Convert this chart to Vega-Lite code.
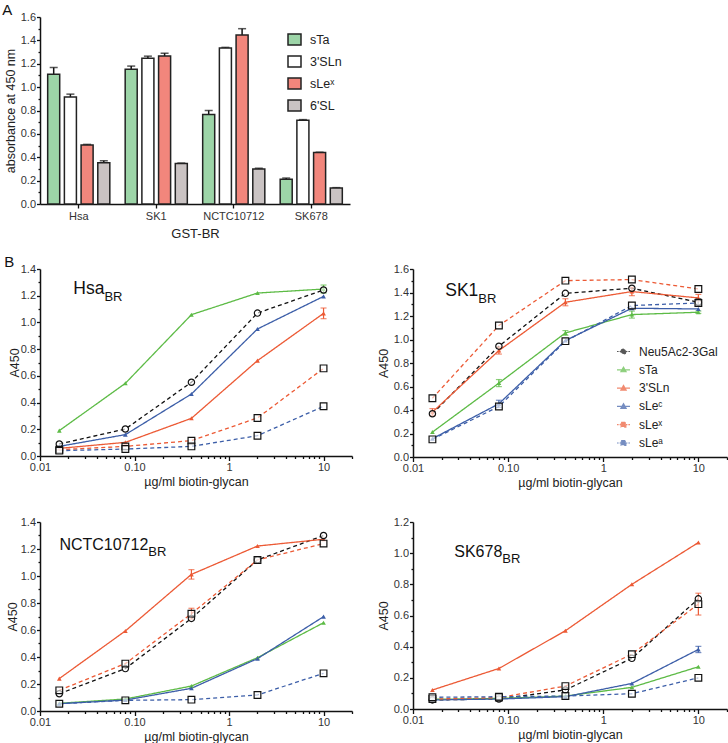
{
"$schema": "https://vega.github.io/schema/vega-lite/v6.json",
"padding": {"left": 2, "top": 3, "right": 0, "bottom": 0},
"config": {
  "font": "Liberation Sans",
  "view": {"stroke": null},
  "axis": {"domainColor": "#111", "domainWidth": 1.5, "tickColor": "#111", "tickWidth": 1.3, "labelColor": "#333", "labelFontSize": 11, "labelFont": "Liberation Sans", "titleColor": "#222", "titleFontSize": 12.5, "titleFontWeight": "normal", "titleFont": "Liberation Sans", "grid": false, "labelPadding": 1, "labelOverlap": false},
  "title": {"font": "Liberation Sans", "fontWeight": "normal", "fontSize": 16, "color": "#111"}
},
"datasets": {
  "bars": [
    {"strain": "Hsa", "glycan": "sTa", "v": 1.11, "hi": 1.168},
    {"strain": "Hsa", "glycan": "3'SLn", "v": 0.915, "hi": 0.94},
    {"strain": "Hsa", "glycan": "sLex", "v": 0.505, "hi": 0.51},
    {"strain": "Hsa", "glycan": "6'SL", "v": 0.353, "hi": 0.37},
    {"strain": "SK1", "glycan": "sTa", "v": 1.154, "hi": 1.18},
    {"strain": "SK1", "glycan": "3'SLn", "v": 1.246, "hi": 1.265},
    {"strain": "SK1", "glycan": "sLex", "v": 1.266, "hi": 1.29},
    {"strain": "SK1", "glycan": "6'SL", "v": 0.346, "hi": 0.35},
    {"strain": "NCTC10712", "glycan": "sTa", "v": 0.766, "hi": 0.8},
    {"strain": "NCTC10712", "glycan": "3'SLn", "v": 1.334, "hi": 1.34},
    {"strain": "NCTC10712", "glycan": "sLex", "v": 1.446, "hi": 1.5},
    {"strain": "NCTC10712", "glycan": "6'SL", "v": 0.3, "hi": 0.306},
    {"strain": "SK678", "glycan": "sTa", "v": 0.212, "hi": 0.222},
    {"strain": "SK678", "glycan": "3'SLn", "v": 0.717, "hi": 0.722},
    {"strain": "SK678", "glycan": "sLex", "v": 0.44, "hi": 0.443},
    {"strain": "SK678", "glycan": "6'SL", "v": 0.137, "hi": 0.14}
  ],
  "curves": [
    {"p": "Hsa", "g": "Neu5Ac2-3Gal", "c": 0.016, "v": 0.09, "sd": 0},
    {"p": "Hsa", "g": "Neu5Ac2-3Gal", "c": 0.08, "v": 0.202, "sd": 0},
    {"p": "Hsa", "g": "Neu5Ac2-3Gal", "c": 0.4, "v": 0.552, "sd": 0},
    {"p": "Hsa", "g": "Neu5Ac2-3Gal", "c": 2, "v": 1.07, "sd": 0},
    {"p": "Hsa", "g": "Neu5Ac2-3Gal", "c": 10, "v": 1.243, "sd": 0},
    {"p": "Hsa", "g": "sTa", "c": 0.016, "v": 0.19, "sd": 0},
    {"p": "Hsa", "g": "sTa", "c": 0.08, "v": 0.544, "sd": 0},
    {"p": "Hsa", "g": "sTa", "c": 0.4, "v": 1.058, "sd": 0},
    {"p": "Hsa", "g": "sTa", "c": 2, "v": 1.22, "sd": 0},
    {"p": "Hsa", "g": "sTa", "c": 10, "v": 1.25, "sd": 0.03},
    {"p": "Hsa", "g": "3'SLn", "c": 0.016, "v": 0.057, "sd": 0},
    {"p": "Hsa", "g": "3'SLn", "c": 0.08, "v": 0.102, "sd": 0},
    {"p": "Hsa", "g": "3'SLn", "c": 0.4, "v": 0.282, "sd": 0},
    {"p": "Hsa", "g": "3'SLn", "c": 2, "v": 0.714, "sd": 0},
    {"p": "Hsa", "g": "3'SLn", "c": 10, "v": 1.068, "sd": 0.04},
    {"p": "Hsa", "g": "sLec", "c": 0.016, "v": 0.072, "sd": 0},
    {"p": "Hsa", "g": "sLec", "c": 0.08, "v": 0.16, "sd": 0},
    {"p": "Hsa", "g": "sLec", "c": 0.4, "v": 0.464, "sd": 0},
    {"p": "Hsa", "g": "sLec", "c": 2, "v": 0.951, "sd": 0},
    {"p": "Hsa", "g": "sLec", "c": 10, "v": 1.195, "sd": 0},
    {"p": "Hsa", "g": "sLex", "c": 0.016, "v": 0.047, "sd": 0},
    {"p": "Hsa", "g": "sLex", "c": 0.08, "v": 0.072, "sd": 0},
    {"p": "Hsa", "g": "sLex", "c": 0.4, "v": 0.115, "sd": 0},
    {"p": "Hsa", "g": "sLex", "c": 2, "v": 0.285, "sd": 0},
    {"p": "Hsa", "g": "sLex", "c": 10, "v": 0.656, "sd": 0},
    {"p": "Hsa", "g": "sLea", "c": 0.016, "v": 0.04, "sd": 0},
    {"p": "Hsa", "g": "sLea", "c": 0.08, "v": 0.052, "sd": 0},
    {"p": "Hsa", "g": "sLea", "c": 0.4, "v": 0.072, "sd": 0},
    {"p": "Hsa", "g": "sLea", "c": 2, "v": 0.152, "sd": 0},
    {"p": "Hsa", "g": "sLea", "c": 10, "v": 0.372, "sd": 0},
    {"p": "SK1", "g": "Neu5Ac2-3Gal", "c": 0.016, "v": 0.368, "sd": 0},
    {"p": "SK1", "g": "Neu5Ac2-3Gal", "c": 0.08, "v": 0.943, "sd": 0},
    {"p": "SK1", "g": "Neu5Ac2-3Gal", "c": 0.4, "v": 1.393, "sd": 0},
    {"p": "SK1", "g": "Neu5Ac2-3Gal", "c": 2, "v": 1.436, "sd": 0},
    {"p": "SK1", "g": "Neu5Ac2-3Gal", "c": 10, "v": 1.317, "sd": 0.03},
    {"p": "SK1", "g": "sTa", "c": 0.016, "v": 0.212, "sd": 0},
    {"p": "SK1", "g": "sTa", "c": 0.08, "v": 0.629, "sd": 0.03},
    {"p": "SK1", "g": "sTa", "c": 0.4, "v": 1.056, "sd": 0.02},
    {"p": "SK1", "g": "sTa", "c": 2, "v": 1.212, "sd": 0.03},
    {"p": "SK1", "g": "sTa", "c": 10, "v": 1.232, "sd": 0.01},
    {"p": "SK1", "g": "3'SLn", "c": 0.016, "v": 0.382, "sd": 0.03},
    {"p": "SK1", "g": "3'SLn", "c": 0.08, "v": 0.906, "sd": 0.03},
    {"p": "SK1", "g": "3'SLn", "c": 0.4, "v": 1.317, "sd": 0.03},
    {"p": "SK1", "g": "3'SLn", "c": 2, "v": 1.408, "sd": 0.035},
    {"p": "SK1", "g": "3'SLn", "c": 10, "v": 1.354, "sd": 0.03},
    {"p": "SK1", "g": "sLec", "c": 0.016, "v": 0.156, "sd": 0},
    {"p": "SK1", "g": "sLec", "c": 0.08, "v": 0.453, "sd": 0.03},
    {"p": "SK1", "g": "sLec", "c": 0.4, "v": 0.991, "sd": 0},
    {"p": "SK1", "g": "sLec", "c": 2, "v": 1.266, "sd": 0},
    {"p": "SK1", "g": "sLec", "c": 10, "v": 1.26, "sd": 0},
    {"p": "SK1", "g": "sLex", "c": 0.016, "v": 0.5, "sd": 0},
    {"p": "SK1", "g": "sLex", "c": 0.08, "v": 1.119, "sd": 0},
    {"p": "SK1", "g": "sLex", "c": 0.4, "v": 1.501, "sd": 0},
    {"p": "SK1", "g": "sLex", "c": 2, "v": 1.51, "sd": 0},
    {"p": "SK1", "g": "sLex", "c": 10, "v": 1.43, "sd": 0},
    {"p": "SK1", "g": "sLea", "c": 0.016, "v": 0.15, "sd": 0},
    {"p": "SK1", "g": "sLea", "c": 0.08, "v": 0.43, "sd": 0},
    {"p": "SK1", "g": "sLea", "c": 0.4, "v": 0.986, "sd": 0},
    {"p": "SK1", "g": "sLea", "c": 2, "v": 1.289, "sd": 0},
    {"p": "SK1", "g": "sLea", "c": 10, "v": 1.311, "sd": 0},
    {"p": "NCTC10712", "g": "Neu5Ac2-3Gal", "c": 0.016, "v": 0.128, "sd": 0},
    {"p": "NCTC10712", "g": "Neu5Ac2-3Gal", "c": 0.08, "v": 0.314, "sd": 0},
    {"p": "NCTC10712", "g": "Neu5Ac2-3Gal", "c": 0.4, "v": 0.686, "sd": 0},
    {"p": "NCTC10712", "g": "Neu5Ac2-3Gal", "c": 2, "v": 1.119, "sd": 0},
    {"p": "NCTC10712", "g": "Neu5Ac2-3Gal", "c": 10, "v": 1.3, "sd": 0},
    {"p": "NCTC10712", "g": "sTa", "c": 0.016, "v": 0.057, "sd": 0},
    {"p": "NCTC10712", "g": "sTa", "c": 0.08, "v": 0.089, "sd": 0},
    {"p": "NCTC10712", "g": "sTa", "c": 0.4, "v": 0.185, "sd": 0},
    {"p": "NCTC10712", "g": "sTa", "c": 2, "v": 0.395, "sd": 0},
    {"p": "NCTC10712", "g": "sTa", "c": 10, "v": 0.654, "sd": 0},
    {"p": "NCTC10712", "g": "3'SLn", "c": 0.016, "v": 0.24, "sd": 0},
    {"p": "NCTC10712", "g": "3'SLn", "c": 0.08, "v": 0.593, "sd": 0},
    {"p": "NCTC10712", "g": "3'SLn", "c": 0.4, "v": 1.012, "sd": 0.035},
    {"p": "NCTC10712", "g": "3'SLn", "c": 2, "v": 1.222, "sd": 0},
    {"p": "NCTC10712", "g": "3'SLn", "c": 10, "v": 1.272, "sd": 0},
    {"p": "NCTC10712", "g": "sLec", "c": 0.016, "v": 0.054, "sd": 0},
    {"p": "NCTC10712", "g": "sLec", "c": 0.08, "v": 0.081, "sd": 0},
    {"p": "NCTC10712", "g": "sLec", "c": 0.4, "v": 0.168, "sd": 0},
    {"p": "NCTC10712", "g": "sLec", "c": 2, "v": 0.388, "sd": 0},
    {"p": "NCTC10712", "g": "sLec", "c": 10, "v": 0.699, "sd": 0},
    {"p": "NCTC10712", "g": "sLex", "c": 0.016, "v": 0.153, "sd": 0},
    {"p": "NCTC10712", "g": "sLex", "c": 0.08, "v": 0.351, "sd": 0},
    {"p": "NCTC10712", "g": "sLex", "c": 0.4, "v": 0.721, "sd": 0.04},
    {"p": "NCTC10712", "g": "sLex", "c": 2, "v": 1.119, "sd": 0},
    {"p": "NCTC10712", "g": "sLex", "c": 10, "v": 1.24, "sd": 0},
    {"p": "NCTC10712", "g": "sLea", "c": 0.016, "v": 0.054, "sd": 0},
    {"p": "NCTC10712", "g": "sLea", "c": 0.08, "v": 0.079, "sd": 0},
    {"p": "NCTC10712", "g": "sLea", "c": 0.4, "v": 0.084, "sd": 0},
    {"p": "NCTC10712", "g": "sLea", "c": 2, "v": 0.119, "sd": 0},
    {"p": "NCTC10712", "g": "sLea", "c": 10, "v": 0.279, "sd": 0},
    {"p": "SK678", "g": "Neu5Ac2-3Gal", "c": 0.016, "v": 0.058, "sd": 0},
    {"p": "SK678", "g": "Neu5Ac2-3Gal", "c": 0.08, "v": 0.064, "sd": 0},
    {"p": "SK678", "g": "Neu5Ac2-3Gal", "c": 0.4, "v": 0.122, "sd": 0},
    {"p": "SK678", "g": "Neu5Ac2-3Gal", "c": 2, "v": 0.325, "sd": 0},
    {"p": "SK678", "g": "Neu5Ac2-3Gal", "c": 10, "v": 0.707, "sd": 0},
    {"p": "SK678", "g": "sTa", "c": 0.016, "v": 0.062, "sd": 0},
    {"p": "SK678", "g": "sTa", "c": 0.08, "v": 0.068, "sd": 0},
    {"p": "SK678", "g": "sTa", "c": 0.4, "v": 0.083, "sd": 0},
    {"p": "SK678", "g": "sTa", "c": 2, "v": 0.139, "sd": 0},
    {"p": "SK678", "g": "sTa", "c": 10, "v": 0.271, "sd": 0},
    {"p": "SK678", "g": "3'SLn", "c": 0.016, "v": 0.122, "sd": 0},
    {"p": "SK678", "g": "3'SLn", "c": 0.08, "v": 0.26, "sd": 0},
    {"p": "SK678", "g": "3'SLn", "c": 0.4, "v": 0.502, "sd": 0},
    {"p": "SK678", "g": "3'SLn", "c": 2, "v": 0.8, "sd": 0},
    {"p": "SK678", "g": "3'SLn", "c": 10, "v": 1.068, "sd": 0},
    {"p": "SK678", "g": "sLec", "c": 0.016, "v": 0.058, "sd": 0},
    {"p": "SK678", "g": "sLec", "c": 0.08, "v": 0.064, "sd": 0},
    {"p": "SK678", "g": "sLec", "c": 0.4, "v": 0.079, "sd": 0},
    {"p": "SK678", "g": "sLec", "c": 2, "v": 0.164, "sd": 0},
    {"p": "SK678", "g": "sLec", "c": 10, "v": 0.382, "sd": 0.02},
    {"p": "SK678", "g": "sLex", "c": 0.016, "v": 0.064, "sd": 0},
    {"p": "SK678", "g": "sLex", "c": 0.08, "v": 0.073, "sd": 0},
    {"p": "SK678", "g": "sLex", "c": 0.4, "v": 0.147, "sd": 0},
    {"p": "SK678", "g": "sLex", "c": 2, "v": 0.352, "sd": 0},
    {"p": "SK678", "g": "sLex", "c": 10, "v": 0.673, "sd": 0.07},
    {"p": "SK678", "g": "sLea", "c": 0.016, "v": 0.075, "sd": 0},
    {"p": "SK678", "g": "sLea", "c": 0.08, "v": 0.079, "sd": 0},
    {"p": "SK678", "g": "sLea", "c": 0.4, "v": 0.083, "sd": 0},
    {"p": "SK678", "g": "sLea", "c": 2, "v": 0.098, "sd": 0},
    {"p": "SK678", "g": "sLea", "c": 10, "v": 0.2, "sd": 0}
  ]
},
"bounds": "flush",
"columns": 2,
"spacing": {"row": 65, "column": 61},
"resolve": {"scale": {"color": "independent", "strokeDash": "independent", "shape": "independent"}, "legend": {"color": "independent", "strokeDash": "independent", "shape": "independent"}},
"concat": [
  {
    "width": 310, "height": 187,
    "title": {"text": "A", "anchor": "start", "frame": "bounds", "fontSize": 15, "offset": 0, "dy": 7, "dx": -2},
    "data": {"name": "bars"},
    "encoding": {
      "x": {"field": "strain", "type": "nominal", "sort": ["Hsa", "SK1", "NCTC10712", "SK678"], "scale": {"paddingInner": 0, "paddingOuter": 0}, "axis": {"title": "GST-BR", "labelAngle": 0, "tickSize": 4, "labelPadding": 2, "titlePadding": 6, "titleFontSize": 13}},
      "xOffset": {"field": "glycan", "sort": ["sTa", "3'SLn", "sLex", "6'SL"], "scale": {"paddingInner": 0.28, "paddingOuter": 0.46}},
      "y": {"field": "v", "type": "quantitative", "scale": {"domain": [0, 1.6]}, "axis": {"title": "absorbance at 450 nm", "values": [0, 0.1, 0.2, 0.3, 0.4, 0.5, 0.6, 0.7, 0.8, 0.9, 1, 1.1, 1.2, 1.3, 1.4, 1.5, 1.6], "labelExpr": "round(datum.value*10)%2==0 ? format(datum.value, '.1f') : ''", "labelOverlap": false, "tickSize": {"condition": {"test": "round(datum.value*10)%2==0", "value": 3.5}, "value": 2}, "titlePadding": 3}}
    },
    "layer": [
      {"mark": {"type": "rule", "color": "#111", "strokeWidth": 1.5}, "encoding": {"y2": {"field": "hi"}}},
      {"mark": {"type": "tick", "color": "#111", "thickness": 1.5, "size": 8}, "encoding": {"y": {"field": "hi", "type": "quantitative"}}},
      {"mark": {"type": "bar", "stroke": "#222", "strokeWidth": 1.5},
       "encoding": {"color": {"field": "glycan", "type": "nominal", "scale": {"domain": ["sTa", "3'SLn", "sLex", "6'SL"], "range": ["#9dd5a8", "#ffffff", "#f2867c", "#cac3c3"]},
         "legend": {"title": null, "orient": "none", "legendX": 247, "legendY": 15, "padding": 0, "symbolType": "M-1,-0.85H1V0.85H-1Z", "symbolSize": 169, "symbolStrokeColor": "#222", "symbolStrokeWidth": 1.5, "labelFontSize": 12.5, "labelColor": "#222", "labelOffset": 8, "rowPadding": 3, "labelExpr": "datum.label == 'sLex' ? 'sLeˣ' : datum.label"}}}}
    ]
  },
  {
    "width": 314, "height": 187,
    "data": {"values": [{}]},
    "mark": {"type": "text", "text": ""}
  },
  {
    "width": 312, "height": 187,
    "title": {"text": "B", "anchor": "start", "frame": "bounds", "fontSize": 15, "offset": 0, "dy": 7, "dx": -4},
    "data": {"name": "curves"},
    "transform": [{"filter": "datum.p == 'Hsa'"}],
    "encoding": {
      "x": {"field": "c", "type": "quantitative", "scale": {"type": "log", "domain": [0.01, 20]}, "axis": {"title": "µg/ml biotin-glycan", "values": [0.01, 0.02, 0.03, 0.04, 0.05, 0.06, 0.07, 0.08, 0.09, 0.1, 0.2, 0.3, 0.4, 0.5, 0.6, 0.7, 0.8, 0.9, 1, 2, 3, 4, 5, 6, 7, 8, 9, 10, 20], "labelExpr": "datum.value == 0.01 ? '0.01' : datum.value == 0.1 ? '0.10' : datum.value == 1 ? '1' : datum.value == 10 ? '10' : ''", "labelOverlap": false, "tickSize": {"condition": {"test": "datum.value == 0.01 || datum.value == 0.1 || datum.value == 1 || datum.value == 10", "value": 4.5}, "value": 2.5}, "labelFlush": false, "titlePadding": 3}},
      "y": {"field": "v", "type": "quantitative", "scale": {"domain": [0, 1.4]}, "axis": {"title": "A450", "values": [0, 0.1, 0.2, 0.3, 0.4, 0.5, 0.6, 0.7, 0.8, 0.9, 1, 1.1, 1.2, 1.3, 1.4], "labelExpr": "round(datum.value*10)%2==0 ? format(datum.value, '.1f') : ''", "labelOverlap": false, "tickSize": {"condition": {"test": "round(datum.value*10)%2==0", "value": 3.5}, "value": 2}, "titlePadding": -1}},
      "color": {"field": "g", "type": "nominal", "scale": {"domain": ["Neu5Ac2-3Gal", "sTa", "3'SLn", "sLec", "sLex", "sLea"], "range": ["#111111", "#5dbb46", "#ec5a35", "#3c5ea8", "#ec5a35", "#3c5ea8"]}, "legend": null}
    },
    "layer": [
      {"mark": {"type": "line", "strokeWidth": 1.3}, "encoding": {"strokeDash": {"field": "g", "type": "nominal", "scale": {"domain": ["Neu5Ac2-3Gal", "sTa", "3'SLn", "sLec", "sLex", "sLea"], "range": [[4, 3], [1, 0], [1, 0], [1, 0], [4, 3], [4, 3]]}, "legend": null}}},
      {"transform": [{"filter": "datum.sd > 0"}], "mark": {"type": "errorbar", "ticks": {"size": 6}, "thickness": 1.2}, "encoding": {"yError": {"field": "sd"}}},
      {"transform": [{"filter": {"field": "g", "oneOf": ["sTa", "3'SLn", "sLec"]}}], "mark": {"type": "point", "shape": "triangle-up", "filled": true, "size": 22, "opacity": 1}},
      {"transform": [{"filter": {"field": "g", "oneOf": ["Neu5Ac2-3Gal"]}}], "mark": {"type": "point", "shape": "circle", "size": 40, "stroke": "#111", "fill": "#ffffff", "fillOpacity": 0.6, "strokeWidth": 1.2, "opacity": 1}, "encoding": {"color": {"value": "#111"}}},
      {"transform": [{"filter": {"field": "g", "oneOf": ["sLex", "sLea"]}}], "mark": {"type": "square", "size": 45, "stroke": "#111", "fill": "#ffffff", "fillOpacity": 0.6, "strokeWidth": 1.2, "opacity": 1}, "encoding": {"color": {"value": "#111"}}},
      {"transform": [{"filter": "datum.c == 10 && datum.g == 'sTa'"}], "mark": {"type": "text", "text": "Hsa", "fontSize": 17.5, "align": "right", "baseline": "alphabetic", "color": "#111"}, "encoding": {"x": {"datum": 0.048}, "y": {"datum": 1.213}, "color": {"value": "#111"}}},
      {"transform": [{"filter": "datum.c == 10 && datum.g == 'sTa'"}], "mark": {"type": "text", "text": "BR", "fontSize": 13, "align": "left", "baseline": "alphabetic", "dy": 7, "color": "#111"}, "encoding": {"x": {"datum": 0.048}, "y": {"datum": 1.213}, "color": {"value": "#111"}}}
    ]
  },
  {
    "width": 314, "height": 188,
    "data": {"name": "curves"},
    "transform": [{"filter": "datum.p == 'SK1'"}],
    "encoding": {
      "x": {"field": "c", "type": "quantitative", "scale": {"type": "log", "domain": [0.01, 20]}, "axis": {"title": "µg/ml biotin-glycan", "values": [0.01, 0.02, 0.03, 0.04, 0.05, 0.06, 0.07, 0.08, 0.09, 0.1, 0.2, 0.3, 0.4, 0.5, 0.6, 0.7, 0.8, 0.9, 1, 2, 3, 4, 5, 6, 7, 8, 9, 10, 20], "labelExpr": "datum.value == 0.01 ? '0.01' : datum.value == 0.1 ? '0.10' : datum.value == 1 ? '1' : datum.value == 10 ? '10' : ''", "labelOverlap": false, "tickSize": {"condition": {"test": "datum.value == 0.01 || datum.value == 0.1 || datum.value == 1 || datum.value == 10", "value": 4.5}, "value": 2.5}, "labelFlush": false, "titlePadding": 3}},
      "y": {"field": "v", "type": "quantitative", "scale": {"domain": [0, 1.6]}, "axis": {"title": "A450", "values": [0, 0.1, 0.2, 0.3, 0.4, 0.5, 0.6, 0.7, 0.8, 0.9, 1, 1.1, 1.2, 1.3, 1.4, 1.5, 1.6], "labelExpr": "round(datum.value*10)%2==0 ? format(datum.value, '.1f') : ''", "labelOverlap": false, "tickSize": {"condition": {"test": "round(datum.value*10)%2==0", "value": 3.5}, "value": 2}, "titlePadding": 3}},
      "color": {"field": "g", "type": "nominal", "scale": {"domain": ["Neu5Ac2-3Gal", "sTa", "3'SLn", "sLec", "sLex", "sLea"], "range": ["#111111", "#5dbb46", "#ec5a35", "#3c5ea8", "#ec5a35", "#3c5ea8"]},
        "legend": {"title": null, "orient": "none", "legendX": 203, "legendY": 75, "padding": 0, "symbolSize": 169, "symbolStrokeWidth": 1.2, "labelFontSize": 12, "labelColor": "#222", "labelOffset": 8, "rowPadding": 4.3, "labelExpr": "datum.label == 'sLec' ? 'sLeᶜ' : datum.label == 'sLex' ? 'sLeˣ' : datum.label == 'sLea' ? 'sLeᵃ' : datum.label"}}
    },
    "layer": [
      {"mark": {"type": "line", "strokeWidth": 1.3}, "encoding": {"strokeDash": {"field": "g", "type": "nominal", "scale": {"domain": ["Neu5Ac2-3Gal", "sTa", "3'SLn", "sLec", "sLex", "sLea"], "range": [[4, 3], [1, 0], [1, 0], [1, 0], [4, 3], [4, 3]]}, "legend": null}}},
      {"transform": [{"filter": "datum.sd > 0"}], "mark": {"type": "errorbar", "ticks": {"size": 6}, "thickness": 1.2}, "encoding": {"yError": {"field": "sd"}}},
      {"transform": [{"filter": {"field": "g", "oneOf": ["sTa", "3'SLn", "sLec"]}}], "mark": {"type": "point", "shape": "triangle-up", "filled": true, "size": 22, "opacity": 1}},
      {"transform": [{"filter": {"field": "g", "oneOf": ["Neu5Ac2-3Gal"]}}], "mark": {"type": "point", "shape": "circle", "size": 40, "stroke": "#111", "fill": "#ffffff", "fillOpacity": 0.6, "strokeWidth": 1.2, "opacity": 1}, "encoding": {"color": {"value": "#111"}}},
      {"transform": [{"filter": {"field": "g", "oneOf": ["sLex", "sLea"]}}], "mark": {"type": "square", "size": 45, "stroke": "#111", "fill": "#ffffff", "fillOpacity": 0.6, "strokeWidth": 1.2, "opacity": 1}, "encoding": {"color": {"value": "#111"}}},
      {"transform": [{"filter": "datum.v < 0"}], "mark": {"type": "point", "filled": false, "strokeWidth": 1.2, "opacity": 1},
       "encoding": {
         "shape": {"field": "g", "type": "nominal", "scale": {"domain": ["Neu5Ac2-3Gal", "sTa", "3'SLn", "sLec", "sLex", "sLea"], "range": ["M-1,0H-0.75M-0.6,0H-0.42M0.42,0H0.6M0.75,0H1M-0.38,0A0.38,0.38,0,1,1,0.38,0A0.38,0.38,0,1,1,-0.38,0Z", "M-1,0H1M0,-0.4L0.4,0.3H-0.4Z", "M-1,0H1M0,-0.4L0.4,0.3H-0.4Z", "M-1,0H1M0,-0.4L0.4,0.3H-0.4Z", "M-1,0H-0.75M-0.6,0H-0.38M0.38,0H0.6M0.75,0H1M-0.36,-0.36H0.36V0.36H-0.36Z", "M-1,0H-0.75M-0.6,0H-0.38M0.38,0H0.6M0.75,0H1M-0.36,-0.36H0.36V0.36H-0.36Z"]},
           "legend": {"title": null, "orient": "none", "legendX": 203, "legendY": 75, "padding": 0, "symbolSize": 169, "symbolStrokeWidth": 1.2, "labelFontSize": 12, "labelColor": "#222", "labelOffset": 8, "rowPadding": 4.3, "labelExpr": "datum.label == 'sLec' ? 'sLeᶜ' : datum.label == 'sLex' ? 'sLeˣ' : datum.label == 'sLea' ? 'sLeᵃ' : datum.label"}}
       }},
      {"transform": [{"filter": "datum.c == 10 && datum.g == 'sTa'"}], "mark": {"type": "text", "text": "SK1", "fontSize": 17.5, "align": "right", "baseline": "alphabetic", "color": "#111"}, "encoding": {"x": {"datum": 0.0486}, "y": {"datum": 1.373}, "color": {"value": "#111"}}},
      {"transform": [{"filter": "datum.c == 10 && datum.g == 'sTa'"}], "mark": {"type": "text", "text": "BR", "fontSize": 13, "align": "left", "baseline": "alphabetic", "dy": 7, "color": "#111"}, "encoding": {"x": {"datum": 0.0486}, "y": {"datum": 1.373}, "color": {"value": "#111"}}}
    ]
  },
  {
    "width": 312, "height": 189,
    "data": {"name": "curves"},
    "transform": [{"filter": "datum.p == 'NCTC10712'"}],
    "encoding": {
      "x": {"field": "c", "type": "quantitative", "scale": {"type": "log", "domain": [0.01, 20]}, "axis": {"title": "µg/ml biotin-glycan", "values": [0.01, 0.02, 0.03, 0.04, 0.05, 0.06, 0.07, 0.08, 0.09, 0.1, 0.2, 0.3, 0.4, 0.5, 0.6, 0.7, 0.8, 0.9, 1, 2, 3, 4, 5, 6, 7, 8, 9, 10, 20], "labelExpr": "datum.value == 0.01 ? '0.01' : datum.value == 0.1 ? '0.10' : datum.value == 1 ? '1' : datum.value == 10 ? '10' : ''", "labelOverlap": false, "tickSize": {"condition": {"test": "datum.value == 0.01 || datum.value == 0.1 || datum.value == 1 || datum.value == 10", "value": 4.5}, "value": 2.5}, "labelFlush": false, "titlePadding": 3}},
      "y": {"field": "v", "type": "quantitative", "scale": {"domain": [0, 1.4]}, "axis": {"title": "A450", "values": [0, 0.1, 0.2, 0.3, 0.4, 0.5, 0.6, 0.7, 0.8, 0.9, 1, 1.1, 1.2, 1.3, 1.4], "labelExpr": "round(datum.value*10)%2==0 ? format(datum.value, '.1f') : ''", "labelOverlap": false, "tickSize": {"condition": {"test": "round(datum.value*10)%2==0", "value": 3.5}, "value": 2}, "titlePadding": 1}},
      "color": {"field": "g", "type": "nominal", "scale": {"domain": ["Neu5Ac2-3Gal", "sTa", "3'SLn", "sLec", "sLex", "sLea"], "range": ["#111111", "#5dbb46", "#ec5a35", "#3c5ea8", "#ec5a35", "#3c5ea8"]}, "legend": null}
    },
    "layer": [
      {"mark": {"type": "line", "strokeWidth": 1.3}, "encoding": {"strokeDash": {"field": "g", "type": "nominal", "scale": {"domain": ["Neu5Ac2-3Gal", "sTa", "3'SLn", "sLec", "sLex", "sLea"], "range": [[4, 3], [1, 0], [1, 0], [1, 0], [4, 3], [4, 3]]}, "legend": null}}},
      {"transform": [{"filter": "datum.sd > 0"}], "mark": {"type": "errorbar", "ticks": {"size": 6}, "thickness": 1.2}, "encoding": {"yError": {"field": "sd"}}},
      {"transform": [{"filter": {"field": "g", "oneOf": ["sTa", "3'SLn", "sLec"]}}], "mark": {"type": "point", "shape": "triangle-up", "filled": true, "size": 22, "opacity": 1}},
      {"transform": [{"filter": {"field": "g", "oneOf": ["Neu5Ac2-3Gal"]}}], "mark": {"type": "point", "shape": "circle", "size": 40, "stroke": "#111", "fill": "#ffffff", "fillOpacity": 0.6, "strokeWidth": 1.2, "opacity": 1}, "encoding": {"color": {"value": "#111"}}},
      {"transform": [{"filter": {"field": "g", "oneOf": ["sLex", "sLea"]}}], "mark": {"type": "square", "size": 45, "stroke": "#111", "fill": "#ffffff", "fillOpacity": 0.6, "strokeWidth": 1.2, "opacity": 1}, "encoding": {"color": {"value": "#111"}}},
      {"transform": [{"filter": "datum.c == 10 && datum.g == 'sTa'"}], "mark": {"type": "text", "text": "NCTC10712", "fontSize": 16, "align": "right", "baseline": "alphabetic", "color": "#111"}, "encoding": {"x": {"datum": 0.14}, "y": {"datum": 1.193}, "color": {"value": "#111"}}},
      {"transform": [{"filter": "datum.c == 10 && datum.g == 'sTa'"}], "mark": {"type": "text", "text": "BR", "fontSize": 13, "align": "left", "baseline": "alphabetic", "dy": 6, "color": "#111"}, "encoding": {"x": {"datum": 0.14}, "y": {"datum": 1.193}, "color": {"value": "#111"}}}
    ]
  },
  {
    "width": 314, "height": 187,
    "data": {"name": "curves"},
    "transform": [{"filter": "datum.p == 'SK678'"}],
    "encoding": {
      "x": {"field": "c", "type": "quantitative", "scale": {"type": "log", "domain": [0.01, 20]}, "axis": {"title": "µg/ml biotin-glycan", "values": [0.01, 0.02, 0.03, 0.04, 0.05, 0.06, 0.07, 0.08, 0.09, 0.1, 0.2, 0.3, 0.4, 0.5, 0.6, 0.7, 0.8, 0.9, 1, 2, 3, 4, 5, 6, 7, 8, 9, 10, 20], "labelExpr": "datum.value == 0.01 ? '0.01' : datum.value == 0.1 ? '0.10' : datum.value == 1 ? '1' : datum.value == 10 ? '10' : ''", "labelOverlap": false, "tickSize": {"condition": {"test": "datum.value == 0.01 || datum.value == 0.1 || datum.value == 1 || datum.value == 10", "value": 4.5}, "value": 2.5}, "labelFlush": false, "titlePadding": 3}},
      "y": {"field": "v", "type": "quantitative", "scale": {"domain": [0, 1.2]}, "axis": {"title": "A450", "values": [0, 0.1, 0.2, 0.3, 0.4, 0.5, 0.6, 0.7, 0.8, 0.9, 1, 1.1, 1.2], "labelExpr": "round(datum.value*10)%2==0 ? format(datum.value, '.1f') : ''", "labelOverlap": false, "tickSize": {"condition": {"test": "round(datum.value*10)%2==0", "value": 3.5}, "value": 2}, "titlePadding": 3}},
      "color": {"field": "g", "type": "nominal", "scale": {"domain": ["Neu5Ac2-3Gal", "sTa", "3'SLn", "sLec", "sLex", "sLea"], "range": ["#111111", "#5dbb46", "#ec5a35", "#3c5ea8", "#ec5a35", "#3c5ea8"]}, "legend": null}
    },
    "layer": [
      {"mark": {"type": "line", "strokeWidth": 1.3}, "encoding": {"strokeDash": {"field": "g", "type": "nominal", "scale": {"domain": ["Neu5Ac2-3Gal", "sTa", "3'SLn", "sLec", "sLex", "sLea"], "range": [[4, 3], [1, 0], [1, 0], [1, 0], [4, 3], [4, 3]]}, "legend": null}}},
      {"transform": [{"filter": "datum.sd > 0"}], "mark": {"type": "errorbar", "ticks": {"size": 6}, "thickness": 1.2}, "encoding": {"yError": {"field": "sd"}}},
      {"transform": [{"filter": {"field": "g", "oneOf": ["sTa", "3'SLn", "sLec"]}}], "mark": {"type": "point", "shape": "triangle-up", "filled": true, "size": 22, "opacity": 1}},
      {"transform": [{"filter": {"field": "g", "oneOf": ["Neu5Ac2-3Gal"]}}], "mark": {"type": "point", "shape": "circle", "size": 40, "stroke": "#111", "fill": "#ffffff", "fillOpacity": 0.6, "strokeWidth": 1.2, "opacity": 1}, "encoding": {"color": {"value": "#111"}}},
      {"transform": [{"filter": {"field": "g", "oneOf": ["sLex", "sLea"]}}], "mark": {"type": "square", "size": 45, "stroke": "#111", "fill": "#ffffff", "fillOpacity": 0.6, "strokeWidth": 1.2, "opacity": 1}, "encoding": {"color": {"value": "#111"}}},
      {"transform": [{"filter": "datum.c == 10 && datum.g == 'sTa'"}], "mark": {"type": "text", "text": "SK678", "fontSize": 16, "align": "right", "baseline": "alphabetic", "color": "#111"}, "encoding": {"x": {"datum": 0.0869}, "y": {"datum": 0.974}, "color": {"value": "#111"}}},
      {"transform": [{"filter": "datum.c == 10 && datum.g == 'sTa'"}], "mark": {"type": "text", "text": "BR", "fontSize": 13, "align": "left", "baseline": "alphabetic", "dy": 6, "color": "#111"}, "encoding": {"x": {"datum": 0.0869}, "y": {"datum": 0.974}, "color": {"value": "#111"}}}
    ]
  }
]
}
